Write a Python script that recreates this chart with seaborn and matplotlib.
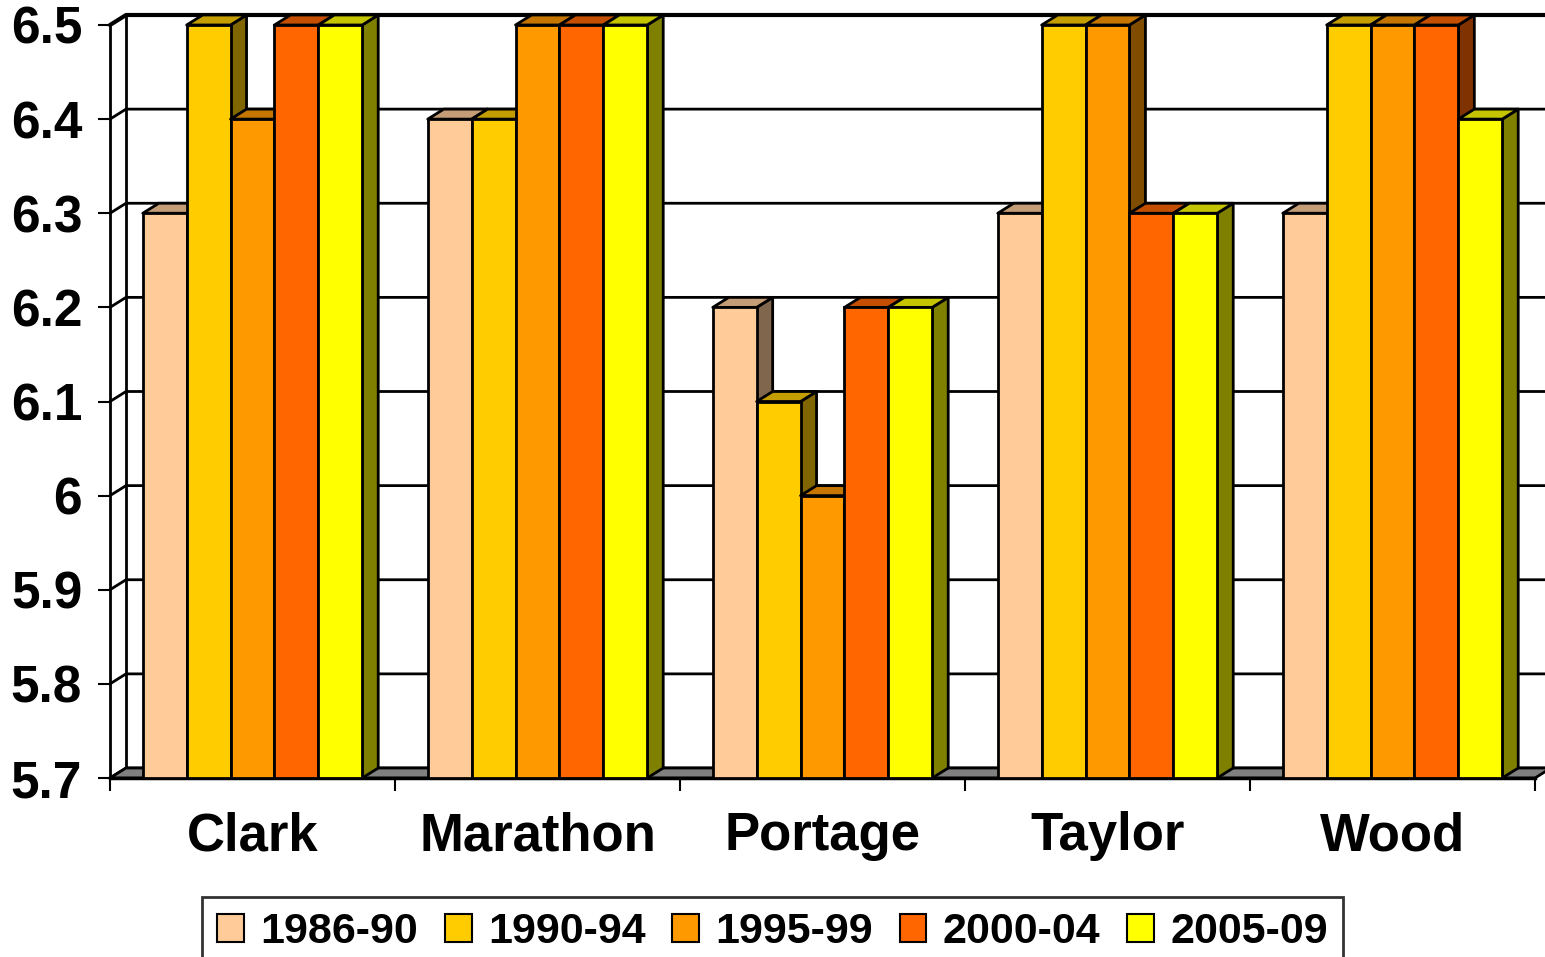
import numpy as np
import pandas as pd
import seaborn as sns
import matplotlib.pyplot as plt
from matplotlib.patches import Polygon, Rectangle
from matplotlib.colors import to_rgb

# Data
counties = ["Clark", "Marathon", "Portage", "Taylor", "Wood"]
periods = ["1986-90", "1990-94", "1995-99", "2000-04", "2005-09"]
v1986_90 = [6.3, 6.4, 6.2, 6.3, 6.3]
v1990_94 = [6.5, 6.4, 6.1, 6.5, 6.5]
v1995_99 = [6.4, 6.5, 6.0, 6.5, 6.5]
v2000_04 = [6.5, 6.5, 6.2, 6.3, 6.5]
v2005_09 = [6.5, 6.5, 6.2, 6.3, 6.4]
colors = ["#FFCC99", "#FFCC00", "#FF9900", "#FF6600", "#FFFF00"]
yticks = [5.7, 5.8, 5.9, 6.0, 6.1, 6.2, 6.3, 6.4, 6.5]
ytick_labels = ["5.7", "5.8", "5.9", "6", "6.1", "6.2", "6.3", "6.4", "6.5"]

df = pd.DataFrame({
    "county": counties * 5,
    "period": np.repeat(periods, len(counties)),
    "value": v1986_90 + v1990_94 + v1995_99 + v2000_04 + v2005_09,
})

sns.set_style("white")
plt.rcParams["font.family"] = ["Liberation Sans", "DejaVu Sans"]
plt.rcParams["font.weight"] = "bold"
plt.rcParams["text.color"] = "black"
plt.rcParams["xtick.color"] = "black"
plt.rcParams["ytick.color"] = "black"

W, H = 1545, 957
fig = plt.figure(figsize=(W / 100, H / 100), dpi=100)
ax = fig.add_axes([110 / W, (H - 778) / H, 1425 / W, 753 / H])

sns.barplot(data=df, x="county", y="value", hue="period", palette=colors,
            saturation=1, width=0.77, edgecolor="black", linewidth=2, ax=ax)

# the bars seaborn drew (grab them before adding any other patches)
bars = [p for p in ax.patches if isinstance(p, Rectangle) and p.get_height() > 1]
bars.sort(key=lambda p: p.get_x())

ymin, ymax = 5.7, 6.5
ax.set_xlim(-0.5, 4.5)
ax.set_ylim(ymin, ymax)

# depth offset of the fake 3D, in data units (16 px right, 10 px up)
dx = 16 * 5 / ax.bbox.width
dy = 10 * (ymax - ymin) / ax.bbox.height


def shade(c, f):
    r, g, b = to_rgb(c)
    return (r * f, g * f, b * f)


# back wall gridlines + left wall
for v in yticks:
    ax.plot([-0.5, -0.5 + dx, 4.5 + dx + 0.1], [v, v + dy, v + dy],
            color="black", lw=3 if v == ymax else 2, clip_on=False, zorder=1)
ax.plot([-0.5 + dx, -0.5 + dx], [ymin + dy, ymax + dy], color="black", lw=2,
        clip_on=False, zorder=1)

# grey floor
floor = Polygon([(-0.5, ymin), (4.5, ymin), (4.5 + dx, ymin + dy), (-0.5 + dx, ymin + dy)],
                fc="#808080", ec="black", lw=2, clip_on=False, zorder=1.5)
ax.add_patch(floor)

# turn flat bars into 3D blocks
for k, p in enumerate(bars):
    top = p.get_y() + p.get_height()
    x0 = p.get_x()
    x1 = x0 + p.get_width()
    c = p.get_facecolor()[:3]
    p.set_y(ymin)
    p.set_height(top - ymin)
    p.set_clip_on(False)
    p.set_zorder(4 + 2 * k)
    side = Polygon([(x1, ymin), (x1 + dx, ymin + dy), (x1 + dx, top + dy), (x1, top)],
                   fc=shade(c, 0.5), ec="black", lw=2, joinstyle="round",
                   clip_on=False, zorder=3 + 2 * k)
    lid = Polygon([(x0, top), (x1, top), (x1 + dx, top + dy), (x0 + dx, top + dy)],
                  fc=shade(c, 0.77), ec="black", lw=2, joinstyle="round",
                  clip_on=False, zorder=3 + 2 * k)
    ax.add_patch(side)
    ax.add_patch(lid)

# axes / ticks
for s in ["top", "right"]:
    ax.spines[s].set_visible(False)
ax.spines["left"].set_linewidth(2)
ax.spines["bottom"].set_linewidth(2.5)
ax.spines["left"].set_color("black")
ax.spines["bottom"].set_color("black")

ax.set_yticks(yticks)
ax.set_yticklabels(ytick_labels)
ax.tick_params(axis="y", direction="out", length=9, width=1.5, labelsize=37, pad=11,
               left=True, colors="black")
ax.set_xticks(range(len(counties)))
ax.set_xticklabels(counties)
ax.set_xticks(np.arange(-0.5, 5, 1), minor=True)
ax.tick_params(axis="x", which="major", length=0, labelsize=38, pad=24, colors="black")
ax.tick_params(axis="x", which="minor", direction="out", length=9, width=1.5, bottom=True)
ax.set_xlabel("")
ax.set_ylabel("")

# legend along the bottom
old = ax.get_legend()
handles = old.legend_handles
labels = [t.get_text() for t in old.get_texts()]
old.remove()
leg = fig.legend(handles, labels, loc="upper center", bbox_to_anchor=(0.5, 1 - 897 / H),
                 ncol=5, fontsize=31, frameon=True, fancybox=False, edgecolor="black",
                 handlelength=0.62, handleheight=0.62, handletextpad=0.38,
                 columnspacing=0.62, borderpad=0.35, borderaxespad=0)
leg.get_frame().set_linewidth(2)
for t in leg.get_texts():
    t.set_color("black")
for h in leg.legend_handles:
    h.set_edgecolor("black")
    h.set_linewidth(1.5)

plt.savefig("out.png", dpi=100)
